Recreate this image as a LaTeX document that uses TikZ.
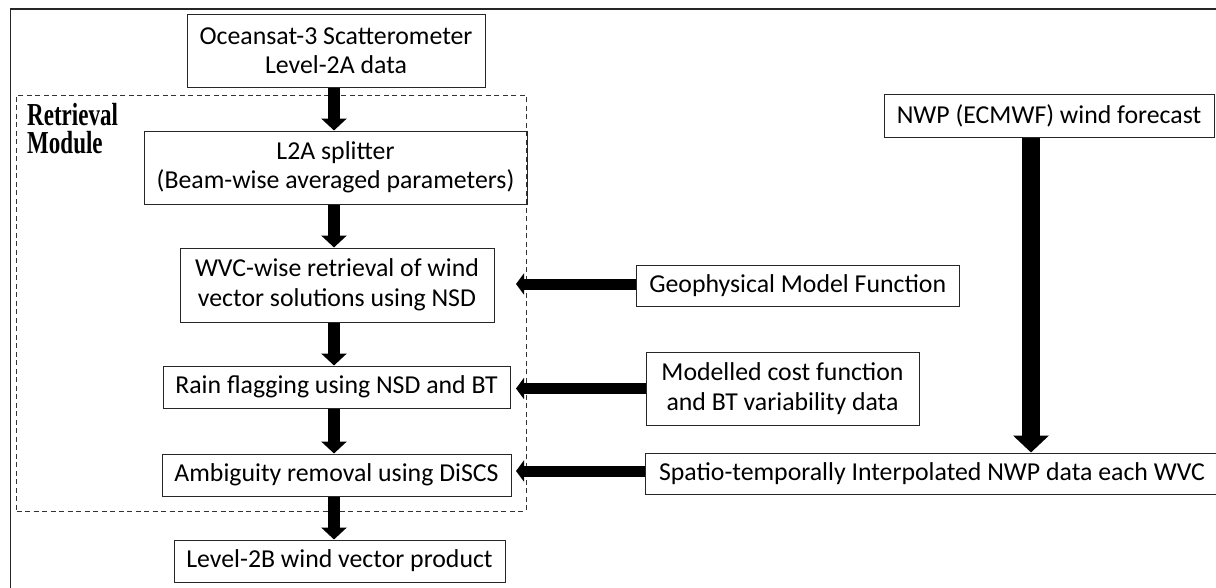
\documentclass[tikz,border=0pt]{standalone}
\usepackage{fontspec}
\setmainfont{Carlito}
\newfontfamily\modfont{Liberation Serif}
\usetikzlibrary{arrows.meta}
\begin{document}
\begin{tikzpicture}[x=1pt,y=-1pt,
  box/.style={draw=black!85,line width=1pt,inner sep=0pt,align=center,
    font=\fontsize{25.8}{29.5}\selectfont},
  modbox/.style={draw=black!80,line width=0.9pt,dash pattern=on 5pt off 3.5pt,inner sep=0pt},
  modlabel/.style={anchor=base west,inner sep=0pt,font=\modfont\bfseries\fontsize{32}{32}\selectfont},
  varrow/.style={line width=12pt,-{Triangle[length=12pt,width=25pt]}},
  harrow/.style={line width=11pt,-{Triangle[length=8pt,width=21pt]}},
  narrow/.style={line width=18pt,-{Triangle[length=17pt,width=35pt]}}
]
\useasboundingbox (0,0) rectangle (1216,587);
\draw[line width=1.5pt,black!85] (10.5,9) rectangle (1240,610);

\node[modbox,minimum width=509.4pt,minimum height=416pt] (module) at (271.3,303) {};
\node[modlabel] (label1) at (27,125) {\scalebox{0.72}[1]{Retrieval}};
\node[modlabel] (label2) at (27,153) {\scalebox{0.72}[1]{Module}};

\node[box,minimum width=298pt,minimum height=73pt] (ocean) at (336,50.5) {Oceansat-3 Scatterometer\\Level-2A data};
\node[box,minimum width=383pt,minimum height=73pt] (l2a) at (335.5,167.5) {L2A splitter\\(Beam-wise averaged parameters)};
\node[box,minimum width=314pt,minimum height=74pt] (wvc) at (337,285) {WVC-wise retrieval of wind\\vector solutions using NSD};
\node[box,minimum width=347pt,minimum height=42pt] (rain) at (336.5,387) {Rain flagging using NSD and BT};
\node[box,minimum width=349pt,minimum height=42pt] (ambig) at (336.5,475) {Ambiguity removal using DiSCS};
\node[box,minimum width=331pt,minimum height=42pt] (l2b) at (339.5,561) {Level-2B wind vector product};

\node[box,minimum width=330pt,minimum height=43pt] (nwp) at (1049,115.5) {NWP (ECMWF) wind forecast};
\node[box,minimum width=322.5pt,minimum height=41pt] (gmf) at (797.75,285.5) {Geophysical Model Function};
\node[box,minimum width=273pt,minimum height=73pt] (model) at (782.5,388.5) {Modelled cost function\\and BT variability data};
\node[box,minimum width=574pt,minimum height=41pt] (spatio) at (932,473.5) {Spatio-temporally Interpolated NWP data each WVC};

\coordinate (vx) at (334,0);
\coordinate (tip) at (516,0);
\coordinate (nx) at (1031,0);

\draw[varrow] (ocean.south -| vx) -- (l2a.north -| vx);
\draw[varrow] (l2a.south -| vx) -- (wvc.north -| vx);
\draw[varrow] (wvc.south -| vx) -- (rain.north -| vx);
\draw[varrow] (rain.south -| vx) -- (ambig.north -| vx);
\draw[varrow] (ambig.south -| vx) -- (l2b.north -| vx);

\draw[harrow] ([yshift=1.5pt]gmf.west) -- ([yshift=1.5pt]gmf.west -| tip);
\draw[harrow] (model.west) -- (model.west -| tip);
\draw[harrow] ([yshift=2.5pt]spatio.west) -- ([yshift=2.5pt]spatio.west -| tip);

\draw[narrow] (nwp.south -| nx) -- (spatio.north -| nx);
\end{tikzpicture}
\end{document}
